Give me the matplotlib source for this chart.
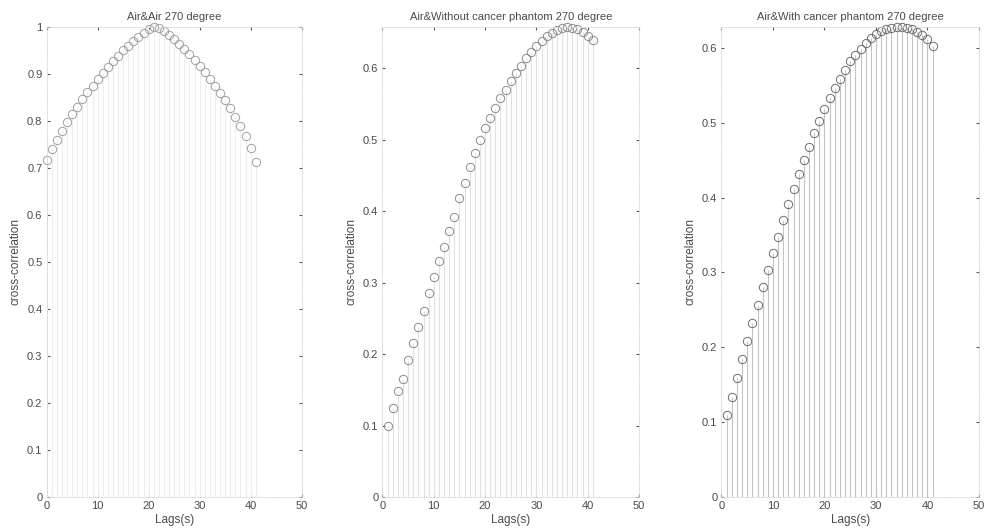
import numpy as np
import matplotlib
matplotlib.use("Agg")
import matplotlib.pyplot as plt

plt.rcParams['font.family'] = ['Liberation Sans', 'DejaVu Sans']

lags_air = list(range(0, 42))
lags_phantom = list(range(1, 42))

air_air = [0.716, 0.740, 0.760, 0.779, 0.797, 0.814, 0.830, 0.846, 0.861, 0.875,
           0.889, 0.902, 0.915, 0.927, 0.939, 0.950, 0.960, 0.970, 0.979, 0.988,
           0.996, 1.000, 0.997, 0.991, 0.983, 0.974, 0.964, 0.953, 0.942, 0.930,
           0.917, 0.904, 0.890, 0.875, 0.860, 0.844, 0.827, 0.809, 0.789, 0.767,
           0.742, 0.712]

air_without = [0.100, 0.125, 0.148, 0.165, 0.192, 0.215, 0.238, 0.260, 0.285, 0.308,
               0.330, 0.350, 0.372, 0.392, 0.418, 0.440, 0.462, 0.482, 0.500, 0.517,
               0.531, 0.545, 0.558, 0.570, 0.583, 0.594, 0.604, 0.614, 0.623, 0.632,
               0.639, 0.645, 0.650, 0.654, 0.657, 0.658, 0.657, 0.655, 0.651, 0.646,
               0.640]

air_with = [0.109, 0.134, 0.159, 0.184, 0.208, 0.232, 0.256, 0.280, 0.303, 0.326,
            0.348, 0.370, 0.391, 0.412, 0.432, 0.450, 0.468, 0.486, 0.503, 0.519,
            0.533, 0.546, 0.559, 0.571, 0.582, 0.591, 0.599, 0.607, 0.613, 0.618,
            0.622, 0.625, 0.627, 0.628, 0.628, 0.627, 0.625, 0.621, 0.617, 0.612,
            0.603]

titles = ["Air&Air 270 degree",
          "Air&Without cancer phantom 270 degree",
          "Air&With cancer phantom 270 degree"]
x_ticks = [0, 10, 20, 30, 40, 50]
y_ticks = [[0, 0.1, 0.2, 0.3, 0.4, 0.5, 0.6, 0.7, 0.8, 0.9, 1.0],
           [0, 0.1, 0.2, 0.3, 0.4, 0.5, 0.6],
           [0, 0.1, 0.2, 0.3, 0.4, 0.5, 0.6]]

series = [(lags_air, air_air), (lags_phantom, air_without), (lags_phantom, air_with)]
stem_colors = ["#eeeeee", "#e2e2e2", "#c4c4c4"]
marker_colors = ["#a0a0a0", "#8c8c8c", "#6e6e6e"]
positions = [[0.0469, 0.0658, 0.2563, 0.8835],
             [0.3844, 0.0658, 0.2578, 0.8835],
             [0.7251, 0.0658, 0.2588, 0.8835]]
text_color = "#4a4a4a"

fig = plt.figure(figsize=(9.95, 5.32), dpi=100)

for i, (lags, vals) in enumerate(series):
    ax = fig.add_axes(positions[i])
    markerline, stemlines, baseline = ax.stem(lags, vals)
    plt.setp(stemlines, color=stem_colors[i], linewidth=0.8)
    plt.setp(markerline, marker='o', markersize=6, markerfacecolor='none',
             markeredgecolor=marker_colors[i], markeredgewidth=0.7, clip_on=False)
    plt.setp(baseline, color="#cfcfcf", linewidth=0.7, linestyle=':')

    ax.set_xlim(0, 50)
    ax.set_ylim(0, max(vals))
    ax.set_xticks(x_ticks)
    ax.set_yticks(y_ticks[i])
    ax.set_yticklabels([("%g" % t) for t in y_ticks[i]])
    ax.tick_params(direction='in', length=2, width=0.8, color="#555555",
                   labelsize=8, labelcolor=text_color, top=True, right=True, pad=3)
    for sp in ax.spines.values():
        sp.set_color("#d4d4d4")
        sp.set_linewidth(0.6)
        sp.set_linestyle((0, (1, 1.5)))
    ax.set_title(titles[i], fontsize=8, color=text_color, pad=5)
    ax.set_xlabel("Lags(s)", fontsize=8.5, color=text_color, labelpad=2)
    ax.set_ylabel("cross-correlation", fontsize=8.5, color=text_color, labelpad=4)

fig.savefig("out.png", dpi=100)
